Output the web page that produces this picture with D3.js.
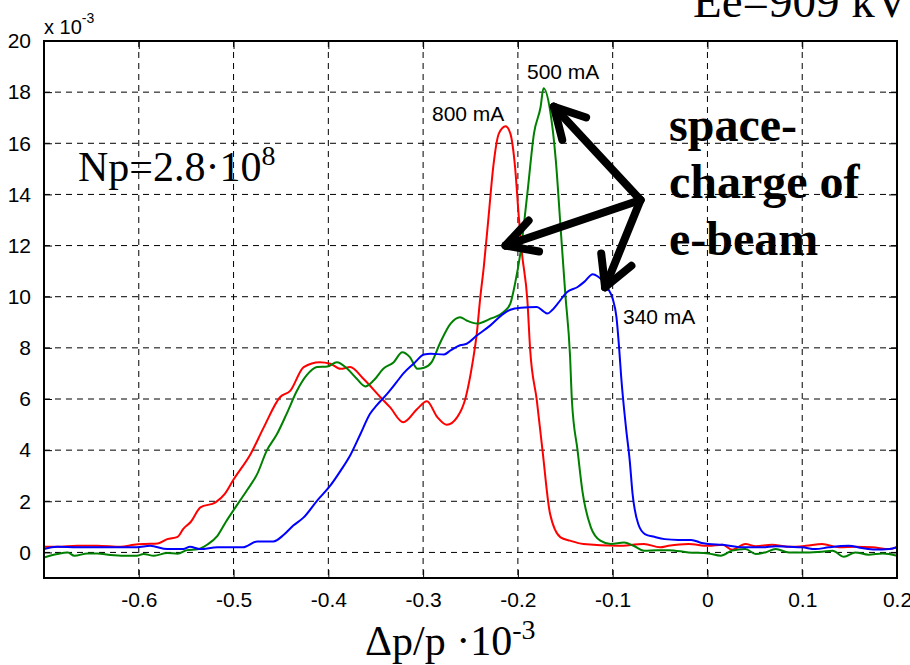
<!DOCTYPE html>
<html>
<head>
<meta charset="utf-8">
<script src="https://cdn.jsdelivr.net/npm/d3@7"></script>
<style>
  html, body { margin: 0; padding: 0; background: #fff; }
  svg { display: block; }
</style>
</head>
<body>
<svg id="chart" width="910" height="665"></svg>
<script>
// ---------- DATA (Δp/p ·10^-3 , signal ·10^-3) ----------
const xTicks = [-0.6, -0.5, -0.4, -0.3, -0.2, -0.1, 0, 0.1, 0.2];
const yTicks = [0, 2, 4, 6, 8, 10, 12, 14, 16, 18, 20];

const curve800 = [[-0.700,0.22],[-0.686,0.22],[-0.665,0.26],[-0.644,0.26],[-0.619,0.22],[-0.605,0.30],[-0.594,0.33],[-0.580,0.35],[-0.570,0.52],[-0.559,0.61],[-0.553,0.92],[-0.545,1.2],[-0.535,1.76],[-0.519,1.96],[-0.509,2.3],[-0.500,2.85],[-0.482,3.85],[-0.468,4.9],[-0.451,6.07],[-0.440,6.33],[-0.426,7.25],[-0.409,7.44],[-0.398,7.38],[-0.387,7.18],[-0.377,7.25],[-0.363,6.79],[-0.345,6.07],[-0.335,5.68],[-0.321,5.09],[-0.306,5.62],[-0.296,5.91],[-0.285,5.29],[-0.275,4.99],[-0.264,5.29],[-0.255,6.07],[-0.248,7.38],[-0.243,8.68],[-0.240,9.86],[-0.236,11.16],[-0.231,13.1],[-0.226,15.08],[-0.220,16.39],[-0.213,16.67],[-0.208,16.39],[-0.203,15.08],[-0.199,13.1],[-0.196,11.8],[-0.190,9.86],[-0.187,7.9],[-0.180,5.94],[-0.174,3.98],[-0.166,1.5],[-0.155,0.59],[-0.145,0.46],[-0.131,0.33],[-0.095,0.26],[-0.067,0.33],[-0.050,0.2],[-0.041,0.26],[-0.020,0.33],[0.001,0.26],[0.016,0.30],[0.026,0.10],[0.040,0.33],[0.051,0.24],[0.068,0.30],[0.086,0.22],[0.104,0.26],[0.121,0.33],[0.139,0.20],[0.156,0.22],[0.174,0.20],[0.192,0.13],[0.200,0.22]];

const curve500 = [[-0.700,-0.2],[-0.686,-0.06],[-0.675,0],[-0.668,-0.13],[-0.654,-0.04],[-0.644,-0.04],[-0.630,-0.1],[-0.616,-0.13],[-0.602,-0.13],[-0.595,-0.06],[-0.584,-0.13],[-0.570,-0.02],[-0.559,-0.05],[-0.549,0.09],[-0.538,0.12],[-0.528,0.3],[-0.517,0.65],[-0.508,1.2],[-0.498,1.76],[-0.486,2.42],[-0.475,3.07],[-0.465,3.98],[-0.454,4.64],[-0.444,5.42],[-0.433,6.33],[-0.423,6.92],[-0.412,7.25],[-0.401,7.27],[-0.391,7.44],[-0.380,7.18],[-0.370,6.79],[-0.361,6.49],[-0.352,6.73],[-0.342,7.18],[-0.331,7.44],[-0.322,7.83],[-0.314,7.64],[-0.306,7.18],[-0.299,7.22],[-0.291,7.44],[-0.282,8.2],[-0.271,8.95],[-0.261,9.2],[-0.254,9.07],[-0.243,8.95],[-0.229,9.14],[-0.215,9.4],[-0.208,9.73],[-0.203,10.51],[-0.197,11.8],[-0.190,14.04],[-0.183,16.39],[-0.176,17.43],[-0.173,18.15],[-0.166,17.28],[-0.160,15.34],[-0.155,12.73],[-0.150,10.12],[-0.145,7.7],[-0.143,5.94],[-0.137,3.98],[-0.132,2.42],[-0.123,0.98],[-0.113,0.46],[-0.102,0.33],[-0.088,0.39],[-0.078,0.26],[-0.067,0.07],[-0.053,0.09],[-0.041,0.09],[-0.020,0],[0.001,-0.04],[0.014,-0.13],[0.026,0.07],[0.040,0.13],[0.051,-0.06],[0.061,0],[0.072,0.13],[0.086,0],[0.104,0],[0.121,0.03],[0.132,0.07],[0.144,-0.17],[0.156,0],[0.170,-0.09],[0.185,-0.04],[0.200,-0.13]];

const curve340 = [[-0.700,0.13],[-0.686,0.22],[-0.665,0.2],[-0.644,0.2],[-0.619,0.2],[-0.602,0.2],[-0.588,0.26],[-0.570,0.13],[-0.553,0.13],[-0.546,0.22],[-0.535,0.13],[-0.517,0.2],[-0.490,0.2],[-0.475,0.43],[-0.458,0.43],[-0.447,0.69],[-0.437,1.05],[-0.426,1.37],[-0.412,2.02],[-0.398,2.61],[-0.387,3.2],[-0.377,3.79],[-0.366,4.64],[-0.356,5.42],[-0.349,5.75],[-0.338,6.2],[-0.328,6.66],[-0.321,6.99],[-0.310,7.38],[-0.299,7.74],[-0.292,7.77],[-0.278,7.74],[-0.271,7.9],[-0.261,8.1],[-0.254,8.16],[-0.243,8.49],[-0.229,8.88],[-0.215,9.34],[-0.208,9.49],[-0.197,9.57],[-0.180,9.6],[-0.173,9.43],[-0.169,9.34],[-0.164,9.47],[-0.158,9.73],[-0.148,10.18],[-0.137,10.38],[-0.130,10.58],[-0.121,10.88],[-0.116,10.8],[-0.105,10.32],[-0.100,9.92],[-0.096,9.2],[-0.093,7.9],[-0.091,6.86],[-0.086,4.9],[-0.082,3.59],[-0.079,2.29],[-0.073,1.11],[-0.066,0.72],[-0.056,0.61],[-0.045,0.52],[-0.031,0.49],[-0.017,0.49],[-0.006,0.37],[0.001,0.33],[0.016,0.30],[0.037,0.2],[0.058,0.2],[0.072,0.24],[0.086,0.22],[0.100,0.2],[0.114,0.13],[0.128,0.2],[0.149,0.26],[0.163,0.17],[0.177,0.11],[0.192,0.13],[0.200,0.2]];

const seriesNames = ["800 mA", "500 mA", "340 mA"];
const seriesColors = ["#ff0000", "#008000", "#0000ff"];

// arrow annotation: common origin and three tips (data units)
const arrowOrigin = [-0.0706, 13.78];
const arrowTips = [[-0.162, 17.43], [-0.213, 12.0], [-0.108, 10.37]];

// ---------- LAYOUT ----------
const svg = d3.select("#chart");
const L = 44, R = 897, T = 41, B = 578;
const x = d3.scaleLinear().domain([-0.7, 0.2]).range([L, R]);
const y = d3.scaleLinear().domain([-1, 20]).range([B, T]);

const sans = "Arial, 'Liberation Sans', Helvetica, sans-serif";
const serif = "'Times New Roman', 'Liberation Serif', Times, serif";
const fmt = d => String(+d.toFixed(2));   // plain hyphen-minus like the original

// grid
const grid = svg.append("g");
grid.selectAll("line.vg").data(xTicks).join("line")
  .attr("x1", d => x(d)).attr("x2", d => x(d)).attr("y1", T).attr("y2", B)
  .attr("stroke", "#000").attr("stroke-width", 1).attr("stroke-dasharray", "6,5");
grid.selectAll("line.hg").data(yTicks).join("line")
  .attr("y1", d => y(d)).attr("y2", d => y(d)).attr("x1", L).attr("x2", R)
  .attr("stroke", "#000").attr("stroke-width", 1).attr("stroke-dasharray", "6,5");

// curves
const line = d3.line().x(d => x(d[0])).y(d => y(d[1])).curve(d3.curveMonotoneX);
const curves = [curve800, curve500, curve340];
svg.append("g").selectAll("path").data(curves).join("path")
  .attr("d", line).attr("fill", "none")
  .attr("stroke", (d, i) => seriesColors[i]).attr("stroke-width", 2)
  .attr("stroke-linejoin", "round");

// axes (ticks inward)
const axB = svg.append("g").attr("transform", `translate(0,${B})`)
  .call(d3.axisBottom(x).tickValues(xTicks).tickSize(-8).tickPadding(14).tickFormat(fmt));
const axT = svg.append("g").attr("transform", `translate(0,${T})`)
  .call(d3.axisTop(x).tickValues(xTicks).tickSize(-8).tickFormat(""));
const axL = svg.append("g").attr("transform", `translate(${L},0)`)
  .call(d3.axisLeft(y).tickValues(yTicks).tickSize(-8).tickPadding(13).tickFormat(fmt));
const axR = svg.append("g").attr("transform", `translate(${R},0)`)
  .call(d3.axisRight(y).tickValues(yTicks).tickSize(-8).tickFormat(""));
[axB, axT, axL, axR].forEach(a => {
  a.select(".domain").remove();
  a.selectAll(".tick line").attr("stroke", "#000").attr("stroke-width", 1);
  a.selectAll("text").attr("font-family", sans).attr("font-size", 21).attr("fill", "#000");
});
axB.selectAll("text").attr("dy", "0.71em");

// frame
svg.append("rect").attr("x", L).attr("y", T).attr("width", R - L).attr("height", B - T)
  .attr("fill", "none").attr("stroke", "#000").attr("stroke-width", 2);

// exponent label
const ex = svg.append("text").attr("x", 44).attr("y", 34)
  .attr("font-family", sans).attr("font-size", 20).attr("fill", "#000");
ex.append("tspan").text("x 10");
ex.append("tspan").attr("font-size", 14).attr("dy", -11).text("-3");

// series labels
const lblPos = [[432, 121], [527, 79], [623, 324]];
seriesNames.forEach((n, i) => {
  svg.append("text").attr("x", lblPos[i][0]).attr("y", lblPos[i][1])
    .attr("font-family", sans).attr("font-size", 21).attr("fill", "#000").text(n);
});

// title (runs off the top-right corner, as in the original)
svg.append("text").attr("x", 693).attr("y", 17)
  .attr("font-family", serif).attr("font-size", 47).attr("fill", "#000").text("Ee=909 kV");

// Np label
const np = svg.append("text").attr("x", 78).attr("y", 181)
  .attr("font-family", serif).attr("font-size", 42).attr("fill", "#000");
np.append("tspan").text("Np=2.8·10");
np.append("tspan").attr("font-size", 28).attr("dy", -16).text("8");

// space-charge annotation
const scLines = ["space-", "charge of", "e-beam"];
const scY = [141, 198, 255];
scLines.forEach((t, i) => {
  svg.append("text").attr("x", 669).attr("y", scY[i])
    .attr("font-family", serif).attr("font-weight", "bold").attr("font-size", 48)
    .attr("fill", "#000").text(t);
});

// arrows
const ag = svg.append("g").attr("stroke", "#000").attr("stroke-width", 8)
  .attr("stroke-linecap", "round").attr("fill", "none");
const ox = x(arrowOrigin[0]), oy = y(arrowOrigin[1]);
arrowTips.forEach(tp => {
  const tx = x(tp[0]), ty = y(tp[1]);
  ag.append("line").attr("x1", ox).attr("y1", oy).attr("x2", tx).attr("y2", ty);
  const ang = Math.atan2(oy - ty, ox - tx);
  const hl = 34, ha = 0.5;
  [ang + ha, ang - ha].forEach(a => {
    ag.append("line").attr("x1", tx).attr("y1", ty)
      .attr("x2", tx + hl * Math.cos(a)).attr("y2", ty + hl * Math.sin(a));
  });
});

// x axis label
const xl = svg.append("text").attr("x", 365).attr("y", 655)
  .attr("font-family", serif).attr("font-size", 42).attr("fill", "#000");
xl.append("tspan").text("Δp/p ·10");
xl.append("tspan").attr("font-size", 28).attr("dy", -16).text("-3");
</script>
</body>
</html>
